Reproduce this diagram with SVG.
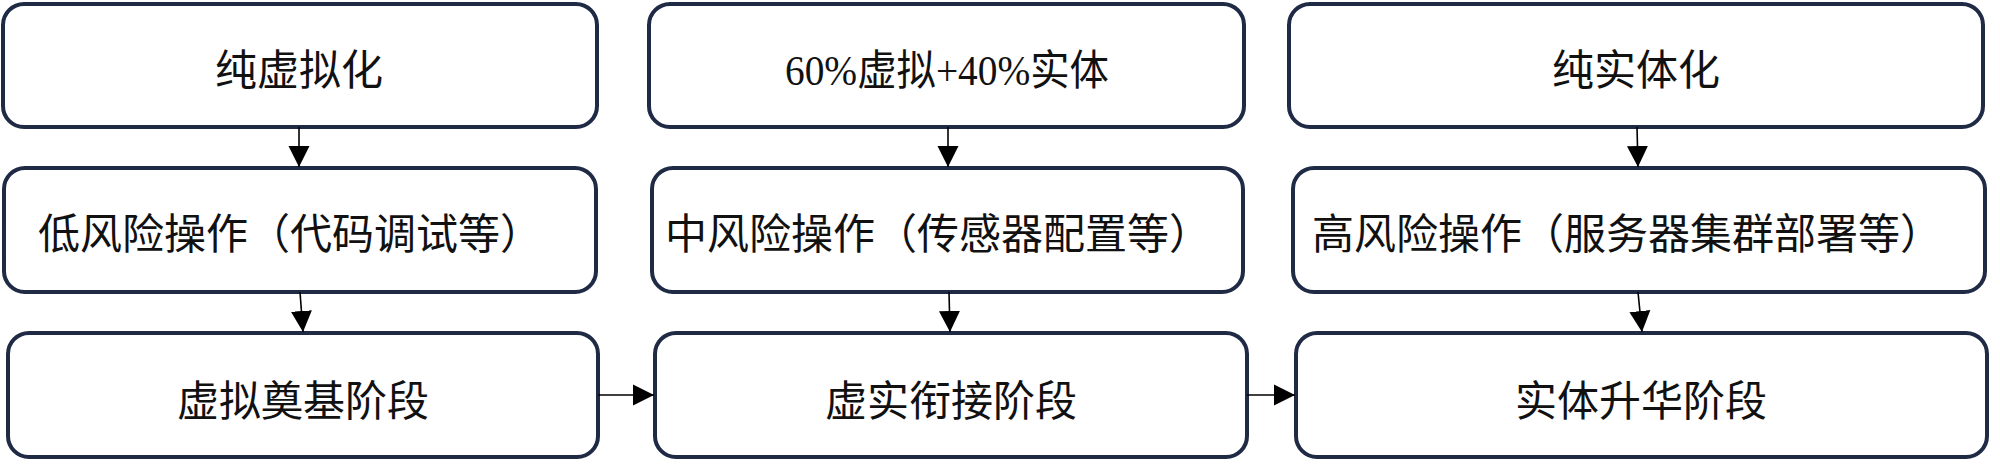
<svg xmlns="http://www.w3.org/2000/svg" width="2000" height="465" viewBox="0 0 2000 465">
<style>
.box{fill:#fff;stroke:#1f2a44;stroke-width:4}
.t{font-family:"Liberation Serif","Noto Sans CJK SC",serif;font-size:42px;fill:#111}
.c{text-anchor:middle}
.conn line{stroke:#000;stroke-width:1.6;fill:none}
</style>
<defs>
<marker id="ah" markerUnits="userSpaceOnUse" markerWidth="22" markerHeight="22" refX="21" refY="10.5" orient="auto" viewBox="0 0 22 21">
<path d="M0,0 L21,10.5 L0,21 Z" fill="#000"/>
</marker>
</defs>
<rect width="2000" height="465" fill="#fff"/>
<g id="n1"><rect class="box" x="3" y="4" width="594" height="123" rx="21"/><text class="t c" x="299" y="85">纯虚拟化</text></g>
<g id="n2"><rect class="box" x="4" y="168" width="592" height="124" rx="21"/><text class="t" x="38" y="249">低风险操作（代码调试等）</text></g>
<g id="n3"><rect class="box" x="8" y="333" width="590" height="124" rx="21"/><text class="t c" x="303" y="416">虚拟奠基阶段</text></g>
<g id="n4"><rect class="box" x="649" y="4" width="595" height="123" rx="21"/><text class="t c" x="947" y="85" textLength="324" lengthAdjust="spacingAndGlyphs">60%虚拟+40%实体</text></g>
<g id="n5"><rect class="box" x="652" y="168" width="591" height="124" rx="21"/><text class="t" x="665" y="249">中风险操作（传感器配置等）</text></g>
<g id="n6"><rect class="box" x="655" y="333" width="592" height="124" rx="21"/><text class="t c" x="951" y="416">虚实衔接阶段</text></g>
<g id="n7"><rect class="box" x="1289" y="4" width="694" height="123" rx="21"/><text class="t c" x="1636" y="85">纯实体化</text></g>
<g id="n8"><rect class="box" x="1293" y="168" width="692" height="124" rx="21"/><text class="t" x="1312" y="249">高风险操作（服务器集群部署等）</text></g>
<g id="n9"><rect class="box" x="1296" y="333" width="691" height="124" rx="21"/><text class="t c" x="1641" y="416">实体升华阶段</text></g>
<g id="connectors" class="conn">
<line x1="299" y1="127" x2="299" y2="167" marker-end="url(#ah)"/>
<line x1="300" y1="292" x2="303" y2="332" marker-end="url(#ah)"/>
<line x1="948" y1="127" x2="948" y2="167" marker-end="url(#ah)"/>
<line x1="949" y1="292" x2="950" y2="332" marker-end="url(#ah)"/>
<line x1="1637" y1="127" x2="1638" y2="167" marker-end="url(#ah)"/>
<line x1="1638" y1="292" x2="1642" y2="332" marker-end="url(#ah)"/>
<line x1="598" y1="395" x2="654" y2="395" marker-end="url(#ah)"/>
<line x1="1247" y1="395" x2="1295" y2="395" marker-end="url(#ah)"/>
</g>
</svg>
